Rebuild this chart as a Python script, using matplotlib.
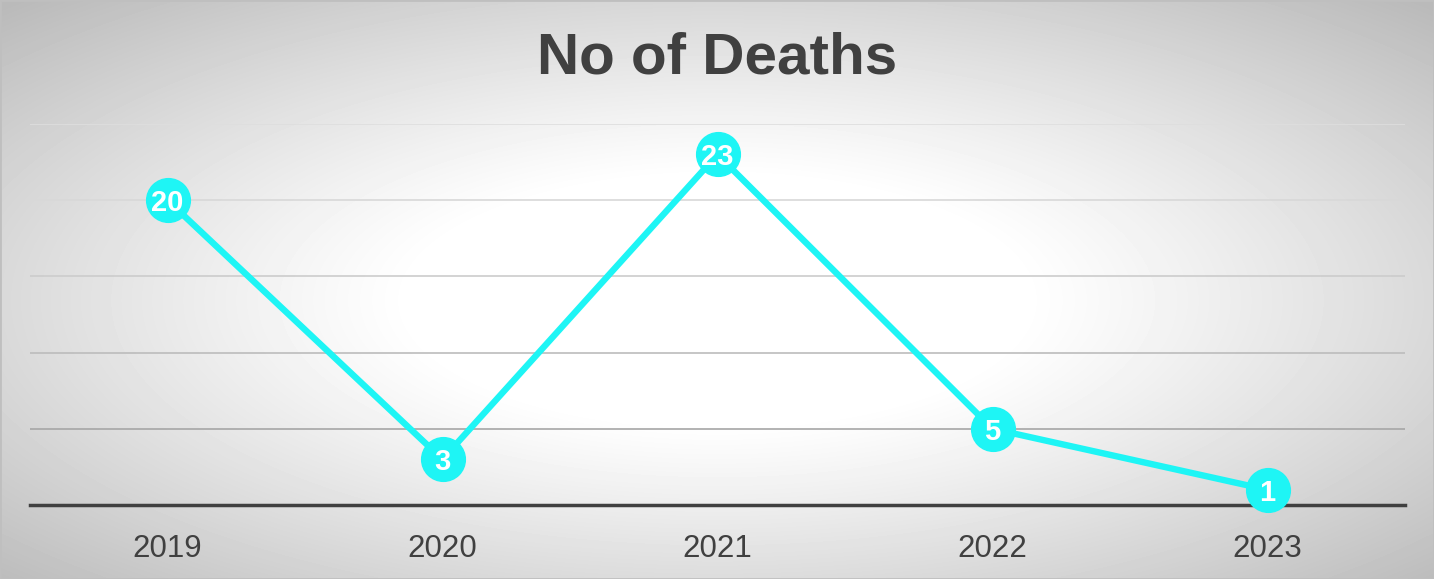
# Line chart: number of deaths per year

import numpy as np
import matplotlib.pyplot as plt

years = ["2019", "2020", "2021", "2022", "2023"]
deaths = [20, 3, 23, 5, 1]

plt.rcParams['font.family'] = ['Liberation Sans', 'DejaVu Sans']

W, H = 1434, 579
fig = plt.figure(figsize=(W / 100, H / 100), dpi=100)

# radial gray-to-white background
bg = fig.add_axes([0, 0, 1, 1], zorder=0)
yy, xx = np.mgrid[0:H, 0:W]
r = np.sqrt(((xx - 717) / (W / 2)) ** 2 + ((yy - 300) / (H / 2)) ** 2) / np.sqrt(2)
shade = 1 - 0.27 * np.clip((r - 0.3) / 0.7, 0, 1) ** 1.1
bg.imshow(shade, cmap='gray', vmin=0, vmax=1, aspect='auto', extent=[0, 1, 0, 1])
bg.set_xlim(0, 1)
bg.set_ylim(0, 1)
bg.axis('off')
bg.add_patch(plt.Rectangle((0, 0), 1, 1, fill=False, edgecolor='#bfbfbf', lw=2,
                           transform=bg.transAxes))

ax = fig.add_axes([30 / W, 1 - 505 / H, 1375 / W, 381 / H], zorder=1)
ax.patch.set_alpha(0)

x = np.arange(len(years))
ax.plot(x, deaths, color='#1ef5f5', lw=4.6, marker='o', markersize=31.5,
        markerfacecolor='#1ef5f5', markeredgecolor='#1ef5f5', zorder=3, clip_on=False)
for xi, v in zip(x, deaths):
    ax.annotate(str(v), (xi, v), xytext=(0, -2), textcoords='offset points',
                ha='center', va='center', color='white',
                fontsize=21, fontweight='bold', zorder=4)

ax.set_xlim(-0.5, len(years) - 0.5)
ax.set_ylim(0, 25)
ax.set_yticks([0, 5, 10, 15, 20, 25])
ax.set_yticklabels([])
ax.set_xticks(x)
ax.set_xticklabels(years, fontsize=22.5, color='#404040')
ax.tick_params(axis='both', length=0)
ax.tick_params(axis='x', pad=21)

ax.grid(axis='y', lw=1.2)
grid_colors = ['#404040', '#a6a6a6', '#bcbcbc', '#cccccc', '#d8d8d8', '#dedede']
for gl, c in zip(ax.get_ygridlines(), grid_colors):
    gl.set_color(c)
ax.set_axisbelow(True)

for side in ['top', 'right', 'left']:
    ax.spines[side].set_visible(False)
ax.spines['bottom'].set_color('#404040')
ax.spines['bottom'].set_linewidth(2.5)
ax.spines['bottom'].set_zorder(2.5)

fig.text(717 / W, 1 - 58 / H, 'No of Deaths', ha='center', va='center',
         fontsize=42, fontweight='bold', color='#404040')

fig.savefig('out.png', dpi=100)
